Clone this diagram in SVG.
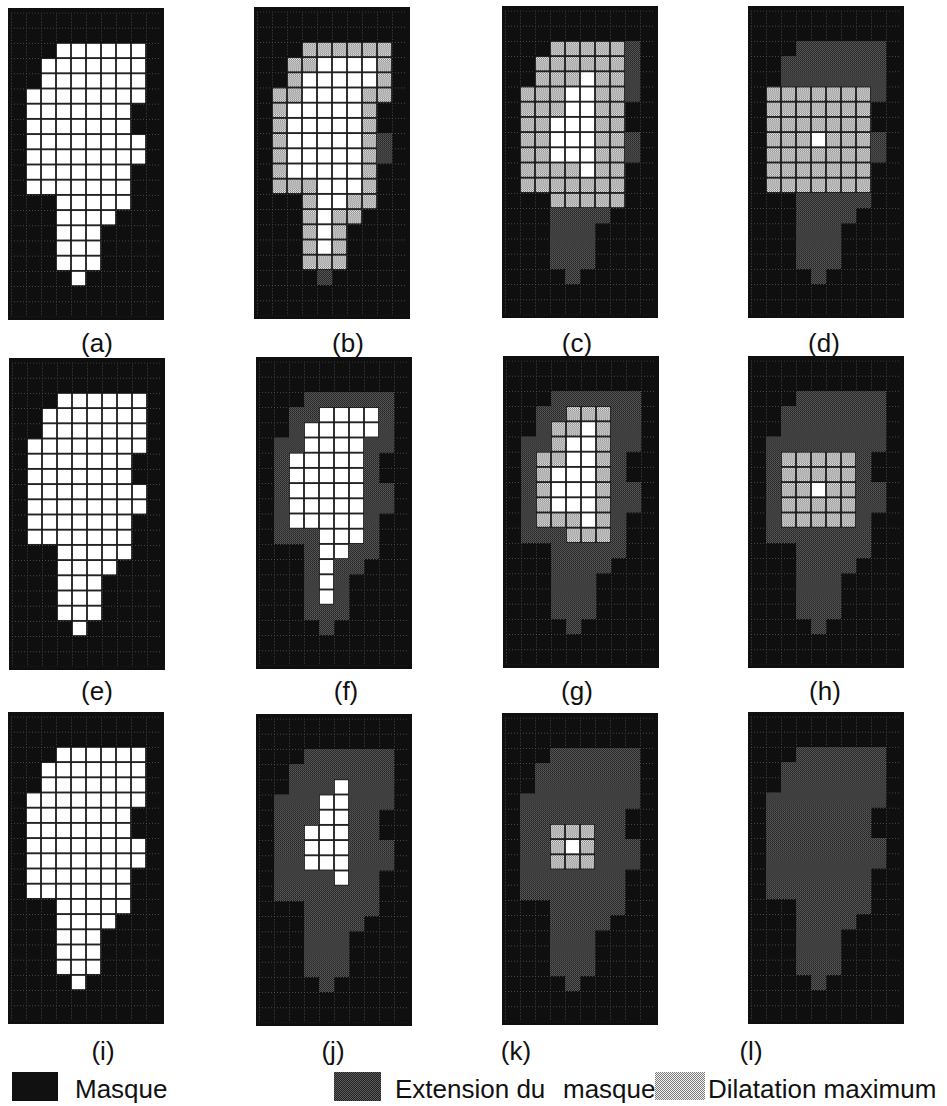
<svg xmlns="http://www.w3.org/2000/svg" xmlns:xlink="http://www.w3.org/1999/xlink" width="947" height="1106" viewBox="0 0 947 1106">
<style>
.bg{fill:#0f0f0f}
.lbl{font-family:"Liberation Sans",Arial,sans-serif;font-size:26px;fill:#111;text-anchor:middle}
.leg{font-family:"Liberation Sans",Arial,sans-serif;font-size:26px;fill:#111}
.grid{fill:url(#pm)}
.w{fill:url(#pw)}
.c{fill:url(#pc)}
.d{fill:url(#pds)}
</style>
<defs>
<pattern id="pcs" width="2" height="2" patternUnits="userSpaceOnUse"><rect width="2" height="2" fill="#f2f2f2"/><rect width="1" height="1" fill="#7a7a7a"/><rect x="1" y="1" width="1" height="1" fill="#7a7a7a"/></pattern>
<pattern id="pds" width="2" height="2" patternUnits="userSpaceOnUse"><rect width="2" height="2" fill="#222"/><rect width="1" height="1" fill="#5c5c5c"/><rect x="1" y="1" width="1" height="1" fill="#5c5c5c"/></pattern>
<pattern id="pm" width="15" height="15" patternUnits="userSpaceOnUse"><rect width="15" height="15" fill="#0f0f0f"/><path d="M0.4,0V15M0,0.4H15" stroke="#5e5e5e" stroke-width="0.8" stroke-dasharray="1 2"/></pattern>
<pattern id="pw" width="15" height="15" patternUnits="userSpaceOnUse"><rect width="15" height="15" fill="#1a1a1a"/><rect x="0.9" y="0.9" width="13.2" height="13.2" fill="#fff"/></pattern>
<pattern id="pc" width="15" height="15" patternUnits="userSpaceOnUse"><rect width="15" height="15" fill="#1a1a1a"/><rect x="0.9" y="0.9" width="13.2" height="13.2" fill="url(#pcs)"/></pattern>
<path id="R" d="M45,30H135V90H120V120H135V150H120V195H105V210H90V255H75V270H60V255H45V180H15V75H30V45H45Z"/>
<path id="Wb" d="M60,45H120V75H105V180H90V195H75V240H60V165H30V90H45V60H60Z"/>
<path id="Cb" d="M45,30H135V90H120V195H105V210H90V255H45V180H15V75H30V45H45Z"/>
<path id="Cc" d="M45,30H120V195H45V180H15V75H30V45H45Z"/>
<path id="Wc" d="M75,60H90V165H75V150H45V105H60V75H75Z"/>
<path id="Cd" d="M15,75H120V180H15Z"/>
<path id="Wd" d="M60,120H75V135H60Z"/>
<path id="Cg" d="M60,45H105V180H60V165H30V90H45V60H60Z"/>
<path id="Ch" d="M30,90H105V165H30Z"/>
<path id="Ck" d="M45,105H90V150H45Z"/>
</defs>
<rect width="947" height="1106" fill="#fff"/>

<g id="panel-a">
<rect class="bg" x="8" y="8" width="156" height="312"/>
<g transform="translate(11,12.5) scale(1,1.0133)"><rect class="grid" width="150" height="300"/><use href="#R" class="w"/></g>
<text class="lbl" x="97" y="352">(a)</text>
</g>
<g id="panel-b">
<rect class="bg" x="254" y="7" width="156" height="312"/>
<g transform="translate(257,11.5) scale(1,1.0133)"><rect class="grid" width="150" height="300"/><use href="#R" class="d"/><use href="#Cb" class="c"/><use href="#Wb" class="w"/></g>
<text class="lbl" x="348" y="352">(b)</text>
</g>
<g id="panel-c">
<rect class="bg" x="502" y="6" width="156" height="312"/>
<g transform="translate(505,10.5) scale(1,1.0133)"><rect class="grid" width="150" height="300"/><use href="#R" class="d"/><use href="#Cc" class="c"/><use href="#Wc" class="w"/></g>
<text class="lbl" x="577" y="352">(c)</text>
</g>
<g id="panel-d">
<rect class="bg" x="748" y="6" width="156" height="312"/>
<g transform="translate(751,10.5) scale(1,1.0133)"><rect class="grid" width="150" height="300"/><use href="#R" class="d"/><use href="#Cd" class="c"/><use href="#Wd" class="w"/></g>
<text class="lbl" x="824" y="352">(d)</text>
</g>

<g id="panel-e">
<rect class="bg" x="9" y="358" width="156" height="312"/>
<g transform="translate(12,362.5) scale(1,1.0133)"><rect class="grid" width="150" height="300"/><use href="#R" class="w"/></g>
<text class="lbl" x="97" y="700">(e)</text>
</g>
<g id="panel-f">
<rect class="bg" x="256" y="357" width="156" height="312"/>
<g transform="translate(259,361.5) scale(1,1.0133)"><rect class="grid" width="150" height="300"/><use href="#R" class="d"/><use href="#Wb" class="w"/></g>
<text class="lbl" x="346" y="700">(f)</text>
</g>
<g id="panel-g">
<rect class="bg" x="503" y="356" width="156" height="312"/>
<g transform="translate(506,360.5) scale(1,1.0133)"><rect class="grid" width="150" height="300"/><use href="#R" class="d"/><use href="#Cg" class="c"/><use href="#Wc" class="w"/></g>
<text class="lbl" x="577" y="700">(g)</text>
</g>
<g id="panel-h">
<rect class="bg" x="748" y="356" width="156" height="312"/>
<g transform="translate(751,360.5) scale(1,1.0133)"><rect class="grid" width="150" height="300"/><use href="#R" class="d"/><use href="#Ch" class="c"/><use href="#Wd" class="w"/></g>
<text class="lbl" x="825" y="700">(h)</text>
</g>

<g id="panel-i">
<rect class="bg" x="8" y="712" width="156" height="312"/>
<g transform="translate(11,716.5) scale(1,1.0133)"><rect class="grid" width="150" height="300"/><use href="#R" class="w"/></g>
<text class="lbl" x="103" y="1060">(i)</text>
</g>
<g id="panel-j">
<rect class="bg" x="256" y="714" width="156" height="312"/>
<g transform="translate(259,718.5) scale(1,1.0133)"><rect class="grid" width="150" height="300"/><use href="#R" class="d"/><use href="#Wc" class="w"/></g>
<text class="lbl" x="333" y="1060">(j)</text>
</g>
<g id="panel-k">
<rect class="bg" x="502" y="713" width="156" height="312"/>
<g transform="translate(505,717.5) scale(1,1.0133)"><rect class="grid" width="150" height="300"/><use href="#R" class="d"/><use href="#Ck" class="c"/><use href="#Wd" class="w"/></g>
<text class="lbl" x="516" y="1060">(k)</text>
</g>
<g id="panel-l">
<rect class="bg" x="748" y="712" width="156" height="312"/>
<g transform="translate(751,716.5) scale(1,1.0133)"><rect class="grid" width="150" height="300"/><use href="#R" class="d"/></g>
<text class="lbl" x="751" y="1060">(l)</text>
</g>

<g id="legend">
<rect x="12" y="1072" width="46" height="29" fill="#111"/>
<text class="leg" x="75" y="1098">Masque</text>
<rect x="334" y="1072" width="47" height="29" fill="url(#pds)"/>
<text class="leg" x="395" y="1098">Extension du</text>
<text class="leg" x="563" y="1098">masque</text>
<rect x="655" y="1072" width="50" height="28" fill="url(#pcs)"/>
<text class="leg" x="708" y="1098">Dilatation maximum</text>
</g>
</svg>
